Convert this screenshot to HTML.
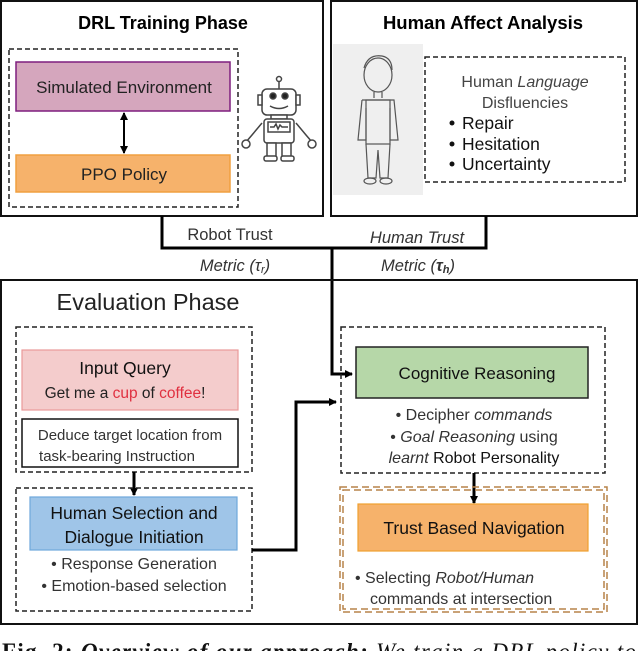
<!DOCTYPE html>
<html><head><meta charset="utf-8"><style>
html,body{margin:0;padding:0;background:#fff;width:640px;height:651px;overflow:hidden}
svg{display:block;font-family:"Liberation Sans",sans-serif}
</style></head><body>
<svg width="640" height="651" viewBox="0 0 640 651" xmlns="http://www.w3.org/2000/svg">
<defs>
<marker id="ah" markerWidth="8" markerHeight="8" refX="7" refY="4" orient="auto" markerUnits="userSpaceOnUse"><path d="M0,0 L8,4 L0,8 z" fill="#000"/></marker>
<marker id="ahs" markerWidth="8" markerHeight="8" refX="1" refY="4" orient="auto" markerUnits="userSpaceOnUse"><path d="M8,0 L0,4 L8,8 z" fill="#000"/></marker>
</defs>
<rect x="1" y="1" width="322" height="215" fill="none" stroke="#111" stroke-width="2"/>
<rect x="331" y="1" width="306" height="215" fill="none" stroke="#111" stroke-width="2"/>
<text x="163" y="29" text-anchor="middle" font-size="18" font-weight="bold">DRL Training Phase</text>
<text x="483" y="29" text-anchor="middle" font-size="18.5" font-weight="bold">Human Affect Analysis</text>
<rect x="9" y="49" width="229" height="158" fill="none" stroke="#222" stroke-width="1.5" stroke-dasharray="5,3"/>
<rect x="16" y="62" width="214" height="49" fill="#d5a6bd" stroke="#7f1f7f" stroke-width="1.5"/>
<text x="124" y="93" text-anchor="middle" font-size="17" fill="#222">Simulated Environment</text>
<rect x="16" y="155" width="214" height="37" fill="#f6b26b" stroke="#f0a040" stroke-width="1.5"/>
<text x="124" y="180" text-anchor="middle" font-size="17" fill="#222">PPO Policy</text>
<line x1="124" y1="113" x2="124" y2="153" stroke="#000" stroke-width="2" marker-start="url(#ahs)" marker-end="url(#ah)"/>
<g stroke="#444" stroke-width="1.5" fill="#fff">
<line x1="279" y1="80" x2="279" y2="90"/><circle cx="279" cy="79" r="2.5"/>
<rect x="262" y="89" width="34" height="26" rx="5"/>
<rect x="258" y="95" width="4" height="10"/><rect x="296" y="95" width="4" height="10"/>
<circle cx="273" cy="96" r="3" fill="#222"/><circle cx="285" cy="96" r="3" fill="#222"/>
<path d="M270,106 Q279,111 288,106"/>
<rect x="271" y="115" width="16" height="4"/>
<rect x="264" y="119" width="30" height="24" rx="3"/>
<rect x="268" y="122" width="22" height="10"/>
<path d="M270,127 l4,0 l2,-3 l2,5 l2,-4 l2,2 l6,0" fill="none"/>
<path d="M262,123 L252,135 L246,142" fill="none"/><path d="M296,123 L306,135 L312,142" fill="none"/>
<circle cx="246" cy="144" r="4"/><circle cx="312" cy="144" r="4"/>
<rect x="267" y="143" width="9" height="14"/><rect x="282" y="143" width="9" height="14"/>
<rect x="264" y="156" width="13" height="5" rx="2"/><rect x="281" y="156" width="13" height="5" rx="2"/>
</g>
<rect x="333" y="44" width="90" height="151" fill="#efefef"/>
<g stroke="#555" stroke-width="1.2" fill="none">
<ellipse cx="378" cy="75" rx="14" ry="17"/>
<path d="M364,68 Q368,54 382,56 Q392,58 392,70"/>
<line x1="374" y1="92" x2="374" y2="98"/><line x1="382" y1="92" x2="382" y2="98"/>
<path d="M362,100 L394,100 L398,140 L390,140 L390,108 M362,100 L358,140 L366,140 L366,108"/>
<rect x="366" y="100" width="24" height="44"/>
<path d="M366,144 L368,178 L376,178 L378,150 L380,178 L388,178 L390,144"/>
<ellipse cx="370" cy="181" rx="6" ry="3"/><ellipse cx="386" cy="181" rx="6" ry="3"/>
</g>
<rect x="425" y="57" width="200" height="125" fill="none" stroke="#222" stroke-width="1.5" stroke-dasharray="5,3"/>
<text x="525" y="87" text-anchor="middle" font-size="16" fill="#444">Human <tspan font-style="italic">Language</tspan></text>
<text x="525" y="108" text-anchor="middle" font-size="16" fill="#444">Disfluencies</text>
<g font-size="17.5" fill="#111">
<circle cx="452" cy="123" r="2.5" fill="#111"/><text x="462" y="129">Repair</text>
<circle cx="452" cy="144" r="2.5" fill="#111"/><text x="462" y="150">Hesitation</text>
<circle cx="452" cy="164" r="2.5" fill="#111"/><text x="462" y="170">Uncertainty</text>
</g>
<path d="M162,216 L162,248 L486,248 L486,216" fill="none" stroke="#000" stroke-width="3"/>
<path d="M332,248 L332,374 L352,374" fill="none" stroke="#000" stroke-width="3" marker-end="url(#ah)"/>
<text x="230" y="240" text-anchor="middle" font-size="16.5" fill="#333">Robot Trust</text>
<text x="235" y="271" text-anchor="middle" font-size="16.5" font-style="italic" fill="#333">Metric (τ<tspan font-size="11" dy="2">r</tspan><tspan dy="-2">)</tspan></text>
<text x="417" y="243" text-anchor="middle" font-size="16.5" font-style="italic" fill="#333">Human Trust</text>
<text x="418" y="271" text-anchor="middle" font-size="16.5" font-style="italic" fill="#333">Metric (<tspan font-weight="bold">τ<tspan font-size="11" dy="2">h</tspan></tspan><tspan dy="-2">)</tspan></text>
<rect x="1" y="280" width="636" height="344" fill="none" stroke="#111" stroke-width="2"/>
<text x="148" y="310" text-anchor="middle" font-size="23.5" fill="#222">Evaluation Phase</text>
<rect x="16" y="327" width="236" height="145" fill="none" stroke="#222" stroke-width="1.5" stroke-dasharray="5,3"/>
<rect x="22" y="350" width="216" height="60" fill="#f4cccc" stroke="#ea9999" stroke-width="1.2"/>
<text x="125" y="374" text-anchor="middle" font-size="17.5" fill="#111">Input Query</text>
<text x="125" y="398" text-anchor="middle" font-size="15.5" fill="#222">Get me a <tspan fill="#e03040">cup</tspan> of <tspan fill="#e03040">coffee</tspan>!</text>
<rect x="22" y="419" width="216" height="48" fill="#fff" stroke="#111" stroke-width="1.5"/>
<text x="130" y="440" text-anchor="middle" font-size="15" fill="#333">Deduce target location from</text>
<text x="117" y="461" text-anchor="middle" font-size="15" fill="#333">task-bearing Instruction</text>
<line x1="134" y1="472" x2="134" y2="495" stroke="#000" stroke-width="3" marker-end="url(#ah)"/>
<rect x="16" y="488" width="236" height="123" fill="none" stroke="#222" stroke-width="1.5" stroke-dasharray="5,3"/>
<rect x="30" y="497" width="207" height="53" fill="#9fc5e8" stroke="#6fa8dc" stroke-width="1.2"/>
<text x="134" y="519" text-anchor="middle" font-size="17.5" fill="#111">Human Selection and</text>
<text x="134" y="543" text-anchor="middle" font-size="17.5" fill="#111">Dialogue Initiation</text>
<text x="134" y="569" text-anchor="middle" font-size="16" fill="#333">• Response Generation</text>
<text x="134" y="591" text-anchor="middle" font-size="16" fill="#333">• Emotion-based selection</text>
<path d="M252,550 L296,550 L296,402 L336,402" fill="none" stroke="#000" stroke-width="3" marker-end="url(#ah)"/>
<rect x="341" y="327" width="264" height="146" fill="none" stroke="#222" stroke-width="1.5" stroke-dasharray="5,3"/>
<rect x="356" y="347" width="232" height="51" fill="#b6d7a8" stroke="#222" stroke-width="1.5"/>
<text x="477" y="379" text-anchor="middle" font-size="17" fill="#111">Cognitive Reasoning</text>
<text x="474" y="420" text-anchor="middle" font-size="16" fill="#333">• Decipher <tspan font-style="italic">commands</tspan></text>
<text x="474" y="442" text-anchor="middle" font-size="16" fill="#333">• <tspan font-style="italic">Goal Reasoning</tspan> using</text>
<text x="474" y="463" text-anchor="middle" font-size="16" fill="#111"><tspan font-style="italic" fill="#333">learnt</tspan> Robot Personality</text>
<line x1="474" y1="473" x2="474" y2="503" stroke="#000" stroke-width="3" marker-end="url(#ah)"/>
<rect x="340" y="487" width="267" height="125" fill="none" stroke="#b7834a" stroke-width="1.5" stroke-dasharray="7,4"/>
<rect x="343" y="490" width="261" height="119" fill="none" stroke="#b7834a" stroke-width="1.5" stroke-dasharray="7,4"/>
<rect x="358" y="504" width="230" height="47" fill="#f6b26b" stroke="#f0a030" stroke-width="1.2"/>
<text x="474" y="534" text-anchor="middle" font-size="17.5" fill="#111">Trust Based Navigation</text>
<text x="355" y="583" font-size="16" fill="#333">• Selecting <tspan font-style="italic">Robot/Human</tspan></text>
<text x="370" y="604" font-size="16" fill="#333">commands at intersection</text>
<text x="2" y="659" font-family="Liberation Serif,serif" font-size="23" fill="#111" textLength="634" lengthAdjust="spacing"><tspan font-weight="bold">Fig. 2: </tspan><tspan font-weight="bold" font-style="italic">Overview of our approach:</tspan><tspan font-style="italic"> We train a DRL policy to</tspan></text>
</svg>
</body></html>
